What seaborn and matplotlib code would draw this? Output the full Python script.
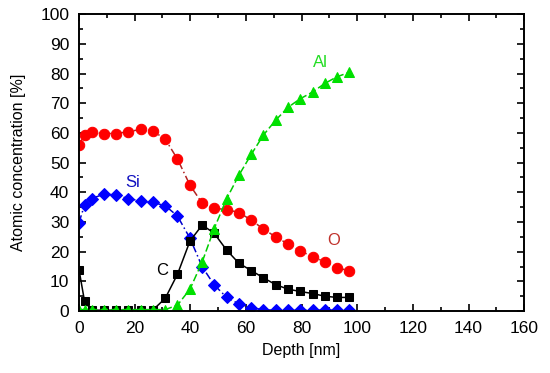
# Depth profile of atomic concentration (XPS-like)
import numpy as np
import pandas as pd
import matplotlib
matplotlib.use('Agg')
import matplotlib.pyplot as plt
import seaborn as sns
from matplotlib.ticker import MultipleLocator

# data
depth = [0, 2, 4.5, 9, 13.3, 17.7, 22.2, 26.5, 31, 35.4, 39.9, 44.3,
         48.6, 53.1, 57.5, 62, 66.3, 70.7, 75.1, 79.5, 84, 88.4, 92.7, 97.1]
oxygen = [56, 59.3, 60.2, 59.8, 59.8, 60.4, 61.2, 60.7, 57.9, 51.2, 42.4, 36.3,
          34.6, 34.2, 33.2, 30.6, 27.6, 25.0, 22.6, 20.3, 18.3, 16.6, 14.6, 13.6]
silicon = [29.8, 35.7, 37.9, 39.4, 39.1, 37.9, 37.1, 36.6, 35.5, 32.0, 24.5, 14.9,
           8.8, 4.6, 2.4, 1.2, 0.4, 0.3, 0.3, 0.3, 0.3, 0.3, 0.3, 0.3]
carbon = [14.0, 3.3, 0.3, 0.3, 0.3, 0.3, 0.3, 0.3, 4.3, 12.4, 23.6, 29.0,
          26.2, 20.5, 16.1, 13.6, 11.2, 8.9, 7.4, 6.6, 5.9, 5.0, 4.6, 4.6]
aluminium = [0.5, 0.5, 0.5, 0.5, 0.5, 0.5, 0.5, 0.5, 0.5, 2.0, 7.4, 16.6,
             27.8, 37.9, 45.8, 52.9, 59.3, 64.3, 68.6, 71.5, 73.8, 76.7, 78.9, 80.4]

df = pd.DataFrame({'depth': depth, 'O': oxygen, 'Si': silicon,
                   'C': carbon, 'Al': aluminium})

sns.set_style('ticks', {'axes.edgecolor': 'black', 'text.color': 'black',
                        'xtick.color': 'black', 'ytick.color': 'black',
                        'axes.labelcolor': 'black'})
plt.rcParams['font.family'] = ['Liberation Sans', 'DejaVu Sans']

fig = plt.figure(figsize=(5.5, 3.73), dpi=100)
ax = fig.add_axes([0.1436, 0.166, 0.8094, 0.796])

# element, marker colour, line colour, marker, markersize, linestyle
styles = [
    ('O', '#ff0000', '#b22222', 'o', 7.5, (0, (5, 2, 1, 2))),
    ('Si', '#0000ff', '#0000cc', 'D', 6.3, (0, (5, 2, 1, 2))),
    ('C', '#000000', '#000000', 's', 6, '-'),
    ('Al', '#00e000', '#00cc00', '^', 7.5, (0, (5, 2))),
]
for name, mc, lc, mk, ms, ls in styles:
    sns.lineplot(data=df, x='depth', y=name, ax=ax, color=lc, marker=mk,
                 markersize=ms, markerfacecolor=mc, markeredgecolor=mc,
                 linestyle=ls, linewidth=1.1)

# element labels
ax.text(86.7, 83.8, 'Al', color='#22dd22', fontsize=12, ha='center', va='center')
ax.text(91.4, 23.9, 'O', color='#c0302a', fontsize=12, ha='center', va='center')
ax.text(19.4, 43.4, 'Si', color='#1010c0', fontsize=12, ha='center', va='center')
ax.text(29.9, 13.8, 'C', color='black', fontsize=12, ha='center', va='center')

ax.set_xlim(0, 160)
ax.set_ylim(0, 100)
ax.xaxis.set_major_locator(MultipleLocator(20))
ax.xaxis.set_minor_locator(MultipleLocator(10))
ax.yaxis.set_major_locator(MultipleLocator(10))
ax.yaxis.set_minor_locator(MultipleLocator(5))
ax.tick_params(which='both', direction='in', top=True, right=True,
               width=1.2, labelsize=12.5, colors='black')
ax.tick_params(which='major', length=5, pad=7)
ax.tick_params(which='minor', length=3)
for s in ax.spines.values():
    s.set_linewidth(1.4)
    s.set_color('black')

ax.set_xlabel('Depth [nm]', fontsize=11.5, labelpad=5)
ax.set_ylabel('Atomic concentration [%]', fontsize=11.5, labelpad=10)

fig.savefig('out.png', dpi=100)
